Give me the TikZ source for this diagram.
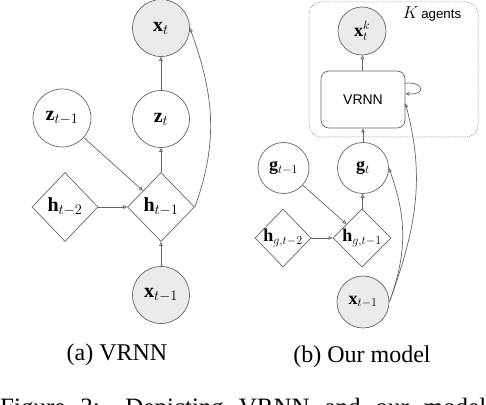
\documentclass[tikz,border=0pt]{standalone}
\usepackage{fontspec}
\setmainfont{Liberation Serif}
\setsansfont{Liberation Sans}
\usetikzlibrary{shapes.geometric,arrows.meta}
\definecolor{edgegray}{HTML}{666666}
\definecolor{fillgray}{HTML}{EBEBEB}
\definecolor{plategray}{HTML}{8A8A8A}
\newcommand{\mlabA}{\fontsize{20}{24}\selectfont}
\newcommand{\mlabB}{\fontsize{18}{22}\selectfont}
\tikzset{
  circ/.style={circle, draw=edgegray, line width=0.7pt, minimum size=#1, inner sep=0pt},
  obs/.style={fill=fillgray},
  diam/.style 2 args={diamond, draw=edgegray, line width=0.7pt, minimum width=#1, minimum height=#2, inner sep=0pt},
  arr/.style={draw=edgegray, line width=0.7pt, -{Triangle[open, length=4pt, width=3.6pt]}},
  capt/.style={font=\fontsize{24}{28}\selectfont, inner sep=0pt},
  plate/.style={draw=plategray, line width=0.5pt, dash pattern=on 1.3pt off 1.1pt, rounded corners=12pt, inner sep=0pt},
  boxnode/.style={draw=edgegray, line width=0.7pt, rounded corners=8pt, inner sep=0pt, font=\sffamily\fontsize{14}{16}\selectfont}
}
\begin{document}
\begin{tikzpicture}[x=1pt,y=1pt]
\clip (0,0) rectangle (486,404);
\useasboundingbox (0,0) rectangle (486,404);

% ---------- (a) VRNN ----------
\node[circ=57, obs] (xt) at (161,376) {\mlabA$\mathbf{x}_t$};
\node[circ=57] (zt) at (161,285) {\mlabA$\mathbf{z}_t$};
\node[circ=58] (ztm) at (62,286) {\mlabA$\mathbf{z}_{t-1}$};
\node[diam={67}{69}, label={center:\mlabA$\mathbf{h}_{t-1}$}] (ht1) at (161,197) {};
\node[diam={66}{69}, label={center:\mlabA$\mathbf{h}_{t-2}$}] (ht2) at (65,197) {};
\node[circ=57, obs] (xtm) at (161,109) {\mlabA$\mathbf{x}_{t-1}$};
\node[capt] (capA) at (117,49) {(a) VRNN};

\draw[arr] (zt) -- (xt);
\draw[arr] (ht1) -- (zt);
\draw[arr] (ztm) -- (ht1);
\draw[arr] (ht2) -- (ht1);
\draw[arr] (xtm) -- (ht1);
\draw[arr] (ht1.east) to[out=70, in=-70] (xt.east);

% ---------- (b) Our model ----------
\node[plate, minimum width=169, minimum height=135] (plt) at (393.5,334.5) {};
\node[inner sep=0pt] (kag) at (432,390) {\fontsize{17}{20}\selectfont$K$\,\sffamily\fontsize{13.3}{16}\selectfont agents};
\node[circ=48, obs] (xk) at (362,373) {\mlabB$\mathbf{x}_t^k$};
\node[boxnode, minimum width=84, minimum height=57] (vrnn) at (363,304.5) {VRNN};
\node[circ=51] (gt) at (363,236) {\mlabB$\mathbf{g}_t$};
\node[circ=51] (gtm) at (283.5,236) {\mlabB$\mathbf{g}_{t-1}$};
\node[diam={58}{58}, label={center:\mlabB$\mathbf{h}_{g,t-1}$}] (hg1) at (362,166) {};
\node[diam={56}{58}, label={center:\mlabB$\mathbf{h}_{g,t-2}$}] (hg2) at (283,166) {};
\node[circ=52, obs] (xtmb) at (363,102) {\mlabB$\mathbf{x}_{t-1}$};
\node[capt] (capB) at (362,47) {(b) Our model};

\draw[arr] (vrnn) -- (xk);
\draw[arr] (gt) -- (vrnn);
\draw[arr] (hg1) -- (gt);
\draw[arr] (gtm) -- (hg1);
\draw[arr] (hg2) -- (hg1);
\draw[arr] (xtmb.east) to[out=70, in=-70] (gt.east);
\draw[arr] (xtmb.east) to[out=70, in=-75] (vrnn.-5);
\draw[arr] (vrnn.21) to[out=5, in=-5, looseness=5] (vrnn.8);

% ---------- figure caption (cut off) ----------
\node[anchor=base west, inner sep=0pt] (figcap) at (0,-11.5)
  {\makebox[486pt][s]{\fontsize{25}{29}\selectfont Figure 3: Depicting VRNN and our model}};
\end{tikzpicture}
\end{document}
